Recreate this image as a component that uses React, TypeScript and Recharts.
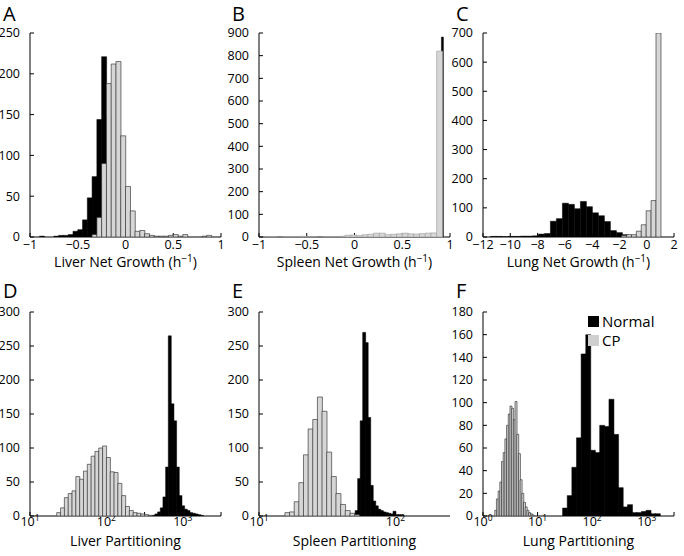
import React from "react";
import { BarChart, Bar, XAxis, YAxis, Legend } from "recharts";

const FONT = '"Open Sans", "Noto Sans", Arial, sans-serif';

// every histogram: [first bin edge, bin width] + counts per bin
// log-scaled panels (D-F) keep their bins in log10 units
const liverGrowthNormalBins = [-0.9, 0.05];
const liverGrowthNormal = [1, 0, 0, 1, 2, 2, 3, 7, 9, 21, 48, 74, 144, 221, 150, 85, 35, 10, 3];
const liverGrowthCPBins = [-0.35, 0.05];
const liverGrowthCP = [3, 24, 90, 188, 212, 215, 124, 62, 32, 7, 8, 4, 2, 1, 1, 1, 2, 3, 1, 3, 0, 0, 0, 1, 2];

const spleenGrowthNormalBins = [0.89, 0.02];
const spleenGrowthNormal = [0, 882, 0];
const spleenGrowthCPBins = [-1, 0.06];
const spleenGrowthCP = [
  0, 1, 2, 0, 1, 2, 1, 3, 2, 1, 0, 1, 2, 1, 3, 8, 9, 6, 10, 12, 17, 17, 10, 12, 14, 17, 14, 13, 15, 17, 18, 820,
];

const lungGrowthNormalBins = [-11.9, 0.44];
const lungGrowthNormal = [
  0, 2, 2, 1, 2, 2, 3, 3, 4, 10, 12, 54, 63, 116, 112, 97, 122, 104, 83, 73, 53, 22, 15, 8, 3,
];
const lungGrowthCPBins = [-1.84, 0.36];
const lungGrowthCP = [5, 8, 8, 20, 42, 90, 125, 700];

const liverPartNormalBins = [2.6, 0.035];
const liverPartNormal = [1, 3, 6, 12, 28, 72, 265, 165, 140, 72, 30, 15, 10, 8, 5, 4, 3, 2, 1];
const liverPartCPBins = [1.35, 0.05];
const liverPartCP = [5, 12, 27, 33, 37, 58, 54, 66, 76, 88, 95, 100, 103, 86, 65, 64, 48, 30, 14, 8, 5, 4, 3, 2, 1];

const spleenPartNormalBins = [1.686, 0.0185];
const spleenPartNormal = [3, 8, 55, 140, 270, 255, 145, 45, 22, 15, 10, 8, 6, 5, 4, 3, 7, 2, 2, 1];
const spleenPartCPBins = [1.19, 0.034];
const spleenPartCP = [5, 6, 21, 49, 90, 128, 142, 175, 154, 94, 58, 33, 17, 8, 4, 2];

const lungPartNormalBins = [1.458, 0.085];
const lungPartNormal = [7, 18, 43, 69, 143, 160, 58, 56, 80, 79, 103, 72, 25, 8, 10, 3, 3, 4, 5, 2, 2];
const lungPartCPBins = [0.215, 0.031];
const lungPartCP = [5, 15, 22, 30, 48, 56, 68, 80, 90, 97, 95, 85, 101, 72, 55, 32, 20, 12, 8, 5, 3, 2, 1];

const growthTicks = [-1, -0.5, 0, 0.5, 1];
const lungGrowthTicks = [-12, -10, -8, -6, -4, -2, 0, 2];
const liverPartTicks = [1, 1.5, 2, 2.5, 3, 3.5];
const spleenPartTicks = [1, 1.5, 2];
const lungPartTicks = [0, 0.5, 1, 1.5, 2, 2.5, 3, 3.5];

const liverGrowthY = [0, 50, 100, 150, 200, 250];
const spleenGrowthY = [0, 100, 200, 300, 400, 500, 600, 700, 800, 900];
const lungGrowthY = [0, 100, 200, 300, 400, 500, 600, 700];
const partY = [0, 50, 100, 150, 200, 250, 300];
const lungPartY = [0, 20, 40, 60, 80, 100, 120, 140, 160, 180];

const legendItems = [
  { label: "Normal", color: "#000" },
  { label: "CP", color: "#cfcfcf" },
];

const toRows = (bins: number[], counts: number[]) =>
  counts.map((n, i) => ({ x: bins[0] + bins[1] * (i + 0.5), n }));

const signed = (v: number) => (v < 0 ? `\u2212${Math.abs(v)}` : `${v}`);

// plot box size and chart margins
const PW = 191;
const PH = 204;
const ML = 45;
const MT = 10;
const MR = 10;
const MB = 42;
const W = PW + ML + MR;
const H = PH + MT + MB;

const PowTick = (props: any) => {
  const { x, y, payload } = props;
  if (!Number.isInteger(payload.value)) return <g />;
  return (
    <text x={x} y={y + 7} textAnchor="middle" fontSize={12.5} fontFamily={FONT} fill="#000">
      10
      <tspan dy={-5} fontSize={8.5}>
        {payload.value}
      </tspan>
    </text>
  );
};

const AxisTitle = (props: any) => {
  const { viewBox, text, perHour, dy } = props;
  const { x, y, width } = viewBox;
  return (
    <text x={x + width / 2} y={y + dy} textAnchor="middle" fontSize={14} fontFamily={FONT} fill="#000">
      {text}
      {perHour && (
        <>
          {" (h"}
          <tspan dy={-5} fontSize={10}>
            {"\u22121"}
          </tspan>
          <tspan dy={5}>)</tspan>
        </>
      )}
    </text>
  );
};

const renderLegend = () => (
  <div style={{ fontFamily: FONT, fontSize: 15, lineHeight: "19px", color: "#000" }}>
    {legendItems.map((it) => (
      <div key={it.label} style={{ display: "flex", alignItems: "center" }}>
        <span style={{ display: "inline-block", width: 11, height: 11, background: it.color, marginRight: 3 }} />
        {it.label}
      </div>
    ))}
  </div>
);

type PanelProps = {
  letter: string;
  left: number;
  top: number;
  letterTop: number;
  normal: { x: number; n: number }[];
  cp: { x: number; n: number }[];
  xDomain: [number, number];
  xTicks: number[];
  log?: boolean;
  yMax: number;
  yTicks: number[];
  title: string;
  perHour?: boolean;
  cpStroke: string;
  legend?: boolean;
};

const tickStyle = { fill: "#000", fontSize: 12.5, fontFamily: FONT };

const Panel = (p: PanelProps) => {
  return (
    <>
      <div
        style={{
          position: "absolute",
          left: p.left - 27,
          top: p.letterTop,
          fontSize: 20,
          fontFamily: FONT,
          lineHeight: "24px",
        }}
      >
        {p.letter}
      </div>
      <div style={{ position: "absolute", left: p.left - ML, top: p.top - MT, width: W, height: H }}>
        <div style={{ position: "absolute", left: 0, top: 0 }}>
          <BarChart
            width={W}
            height={H}
            data={p.normal}
            margin={{ top: MT, right: MR, left: 0, bottom: 0 }}
            barCategoryGap={0}
            barGap={0}
          >
            <XAxis
              xAxisId="bottom"
              type="number"
              dataKey="x"
              domain={p.xDomain}
              allowDataOverflow
              ticks={p.xTicks}
              interval={0}
              height={MB}
              tickSize={-4}
              tickMargin={7}
              stroke="#000"
              tick={p.log ? <PowTick /> : tickStyle}
              tickFormatter={p.log ? undefined : signed}
              label={<AxisTitle text={p.title} perHour={p.perHour} dy={30} />}
            />
            <XAxis
              xAxisId="top"
              orientation="top"
              type="number"
              dataKey="x"
              domain={p.xDomain}
              allowDataOverflow
              ticks={p.xTicks}
              interval={0}
              height={0}
              tickSize={-4}
              tick={false}
              stroke="#000"
            />
            <YAxis
              yAxisId="left"
              type="number"
              domain={[0, p.yMax]}
              allowDataOverflow
              ticks={p.yTicks}
              interval={0}
              width={ML}
              tickSize={-4}
              tickMargin={14}
              stroke="#000"
              tick={tickStyle}
            />
            <YAxis
              yAxisId="right"
              orientation="right"
              type="number"
              domain={[0, p.yMax]}
              allowDataOverflow
              ticks={p.yTicks}
              interval={0}
              width={0}
              tickSize={-4}
              tick={false}
              stroke="#000"
            />
            <Bar
              xAxisId="bottom"
              yAxisId="left"
              dataKey="n"
              fill="#000"
              stroke="#000"
              strokeWidth={0.5}
              isAnimationActive={false}
            />
            {p.legend && (
              <Legend
                layout="vertical"
                align="center"
                verticalAlign="middle"
                wrapperStyle={{ left: 150, top: 10, width: "auto" }}
                content={renderLegend}
              />
            )}
          </BarChart>
        </div>
        <div style={{ position: "absolute", left: 0, top: 0 }}>
          <BarChart
            width={W}
            height={H}
            data={p.cp}
            margin={{ top: MT, right: MR, left: ML, bottom: MB }}
            barCategoryGap={0}
            barGap={0}
          >
            <XAxis hide type="number" dataKey="x" domain={p.xDomain} allowDataOverflow />
            <YAxis hide type="number" domain={[0, p.yMax]} allowDataOverflow />
            <Bar dataKey="n" fill="#d6d6d6" stroke={p.cpStroke} strokeWidth={0.6} isAnimationActive={false} />
          </BarChart>
        </div>
      </div>
    </>
  );
};

export default function App() {
  return (
    <div
      style={{
        position: "absolute",
        left: 0,
        top: 0,
        width: 684,
        height: 556,
        background: "#fff",
        fontFamily: FONT,
      }}
    >
      <Panel
        letter="A"
        left={30}
        top={33}
        letterTop={2}
        normal={toRows(liverGrowthNormalBins, liverGrowthNormal)}
        cp={toRows(liverGrowthCPBins, liverGrowthCP)}
        xDomain={[-1, 1]}
        xTicks={growthTicks}
        yMax={250}
        yTicks={liverGrowthY}
        title="Liver Net Growth"
        perHour
        cpStroke="#222"
      />
      <Panel
        letter="B"
        left={259}
        top={33}
        letterTop={2}
        normal={toRows(spleenGrowthNormalBins, spleenGrowthNormal)}
        cp={toRows(spleenGrowthCPBins, spleenGrowthCP)}
        xDomain={[-1, 1]}
        xTicks={growthTicks}
        yMax={900}
        yTicks={spleenGrowthY}
        title="Spleen Net Growth"
        perHour
        cpStroke="#9a9a9a"
      />
      <Panel
        letter="C"
        left={483}
        top={33}
        letterTop={2}
        normal={toRows(lungGrowthNormalBins, lungGrowthNormal)}
        cp={toRows(lungGrowthCPBins, lungGrowthCP)}
        xDomain={[-12, 2]}
        xTicks={lungGrowthTicks}
        yMax={700}
        yTicks={lungGrowthY}
        title="Lung Net Growth"
        perHour
        cpStroke="#222"
      />
      <Panel
        letter="D"
        left={30}
        top={312}
        letterTop={279}
        normal={toRows(liverPartNormalBins, liverPartNormal)}
        cp={toRows(liverPartCPBins, liverPartCP)}
        xDomain={[1, 3.5]}
        xTicks={liverPartTicks}
        log
        yMax={300}
        yTicks={partY}
        title="Liver Partitioning"
        cpStroke="#222"
      />
      <Panel
        letter="E"
        left={259}
        top={312}
        letterTop={279}
        normal={toRows(spleenPartNormalBins, spleenPartNormal)}
        cp={toRows(spleenPartCPBins, spleenPartCP)}
        xDomain={[1, 2.4]}
        xTicks={spleenPartTicks}
        log
        yMax={300}
        yTicks={partY}
        title="Spleen Partitioning"
        cpStroke="#222"
      />
      <Panel
        letter="F"
        left={483}
        top={312}
        letterTop={279}
        normal={toRows(lungPartNormalBins, lungPartNormal)}
        cp={toRows(lungPartCPBins, lungPartCP)}
        xDomain={[0, 3.5]}
        xTicks={lungPartTicks}
        log
        yMax={180}
        yTicks={lungPartY}
        title="Lung Partitioning"
        cpStroke="#222"
        legend
      />
    </div>
  );
}
